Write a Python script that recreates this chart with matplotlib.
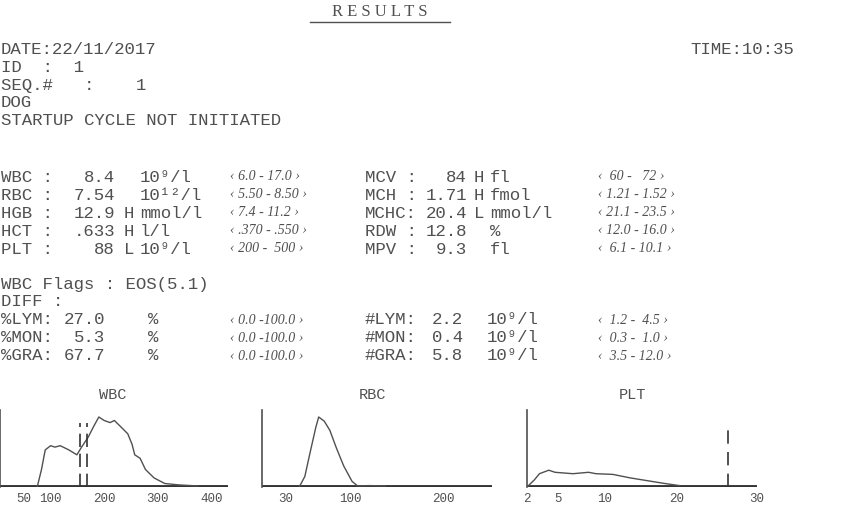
import numpy as np
import matplotlib
matplotlib.use('Agg')
import matplotlib.pyplot as plt
from matplotlib.lines import Line2D

W, H = 850, 522
MONO = ['Liberation Mono', 'DejaVu Sans Mono']
RNG = ['Liberation Serif', 'DejaVu Serif']
INK = '#505050'

header = ['DATE:22/11/2017', 'ID  :  1', 'SEQ.#   :    1', 'DOG', 'STARTUP CYCLE NOT INITIATED']
time_str = 'TIME:10:35'

# main results: label, value, flag, unit, range
left_rows = [('WBC :', '8.4', ' ', '10⁹/l', '‹ 6.0 - 17.0 ›'),
             ('RBC :', '7.54', ' ', '10¹²/l', '‹ 5.50 - 8.50 ›'),
             ('HGB :', '12.9', 'H', 'mmol/l', '‹ 7.4 - 11.2 ›'),
             ('HCT :', '.633', 'H', 'l/l', '‹ .370 - .550 ›'),
             ('PLT :', '88', 'L', '10⁹/l', '‹ 200 -  500 ›')]
right_rows = [('MCV :', '84', 'H', 'fl', '‹  60 -   72 ›'),
              ('MCH :', '1.71', 'H', 'fmol', '‹ 1.21 - 1.52 ›'),
              ('MCHC:', '20.4', 'L', 'mmol/l', '‹ 21.1 - 23.5 ›'),
              ('RDW :', '12.8', ' ', '%', '‹ 12.0 - 16.0 ›'),
              ('MPV :', '9.3', ' ', 'fl', '‹  6.1 - 10.1 ›')]
flags = 'WBC Flags : EOS(5.1)'
diff_left = [('%LYM:', '27.0', '%', '‹ 0.0 -100.0 ›'),
             ('%MON:', '5.3', '%', '‹ 0.0 -100.0 ›'),
             ('%GRA:', '67.7', '%', '‹ 0.0 -100.0 ›')]
diff_right = [('#LYM:', '2.2', '10⁹/l', '‹  1.2 -  4.5 ›'),
              ('#MON:', '0.4', '10⁹/l', '‹  0.3 -  1.0 ›'),
              ('#GRA:', '5.8', '10⁹/l', '‹  3.5 - 12.0 ›')]

# histograms (fL, relative height)
wbc_x = [75, 83, 90, 100, 108, 118, 134, 149, 157, 170, 180, 190, 200, 211, 219, 231, 244, 252, 257, 267, 277, 293, 313, 339, 375]
wbc_y = [0, 0.25, 0.53, 0.59, 0.57, 0.59, 0.53, 0.46, 0.56, 0.71, 0.86, 1.0, 0.95, 0.92, 0.95, 0.86, 0.76, 0.61, 0.46, 0.41, 0.25, 0.13, 0.05, 0.03, 0.015]
wbc_marks = [154, 168]
wbc_ticks = [50, 100, 200, 300, 400]
rbc_x = [45, 51, 57, 63, 66, 72, 78, 85, 93, 102, 108, 120, 138]
rbc_y = [0, 0.15, 0.51, 0.86, 1.0, 0.94, 0.81, 0.56, 0.30, 0.08, 0.015, 0.02, 0.015]
rbc_ticks = [30, 100, 200]
plt_x = [2, 2.7, 3.2, 4.1, 4.7, 6.6, 8.3, 9.1, 11.2, 13.6, 16, 18.4, 20.4]
plt_y = [0, 0.10, 0.19, 0.24, 0.21, 0.19, 0.21, 0.19, 0.18, 0.13, 0.09, 0.05, 0.02]
plt_mark = 26.4
plt_ticks = [2, 5, 10, 20, 30]
plt_tick_px = [963, 1017, 1097, 1222, 1362]

fig = plt.figure(figsize=(8.5, 5.22), dpi=100)


def put(x, y, s, size=12.5, ha='left', fam=MONO, style='normal'):
    fig.text(x / W, 1 - y / H, s, fontsize=size, ha=ha, va='center',
             family=fam, style=style, color=INK)


def rng(x, y, s):
    put(x, y, s, size=10, fam=RNG, style='italic')


put(380, 12, 'R E S U L T S', size=12, ha='center', fam=RNG)
fig.add_artist(Line2D([310 / W, 450 / W], [1 - 22 / H] * 2, color=INK, lw=1))
for i, s in enumerate(header):
    put(1, 50 + i * 17.6, s)
put(690, 50, time_str)

for i, (a, b) in enumerate(zip(left_rows, right_rows)):
    y = 177 + i * 18
    put(1, y, a[0]); put(115, y, a[1], ha='right'); put(124, y, a[2])
    put(140, y, a[3]); rng(230, y, a[4])
    put(365, y, b[0]); put(467, y, b[1], ha='right'); put(474, y, b[2])
    put(490, y, b[3]); rng(598, y, b[4])

put(1, 285, flags)
put(1, 302, 'DIFF :')
for i, (a, b) in enumerate(zip(diff_left, diff_right)):
    y = 320 + i * 18
    put(1, y, a[0]); put(105, y, a[1], ha='right'); put(148, y, a[2])
    rng(230, y, a[3])
    put(365, y, b[0]); put(463, y, b[1], ha='right'); put(487, y, b[2])
    rng(598, y, b[3])


def hist_axes(x0, x1, title, tx):
    ax = fig.add_axes([x0 / W, (522 - 487) / H, (x1 - x0) / W, 77 / H])
    ax.set_ylim(0, 1.1)
    for s in ['top', 'right', 'bottom']:
        ax.spines[s].set_visible(False)
    ax.spines['left'].set_color(INK)
    ax.spines['left'].set_linewidth(1.2)
    ax.axhline(0, color='#333', lw=3.5)
    ax.set_yticks([])
    ax.tick_params(axis='x', length=0, labelsize=9, labelcolor=INK, pad=4)
    put(tx, 395, title, size=11, ha='center')
    return ax


ax = hist_axes(0, 228, 'WBC', 113)
ax.plot(wbc_x, wbc_y, color=INK, lw=1)
for m in wbc_marks:
    ax.plot([m, m], [0, 0.92], color='#333', lw=1.2, dashes=(8, 4))
ax.set_xticks(wbc_ticks)
ax.set_xticklabels([str(t) for t in wbc_ticks], family=MONO)
ax.set_xlim(5.6, 431)

ax = hist_axes(262, 492, 'RBC', 372)
ax.plot(rbc_x, rbc_y, color=INK, lw=1)
ax.set_xticks(rbc_ticks)
ax.set_xticklabels([str(t) for t in rbc_ticks], family=MONO)
ax.set_xlim(4.8, 253)

ax = hist_axes(527, 757, 'PLT', 632)
fwd = lambda v: np.interp(v, plt_ticks, plt_tick_px)
inv = lambda p: np.interp(p, plt_tick_px, plt_ticks)
ax.set_xscale('function', functions=(fwd, inv))
ax.plot(plt_x, plt_y, color=INK, lw=1)
ax.plot([plt_mark, plt_mark], [0, 0.93], color='#333', lw=1.2, dashes=(8, 5))
ax.set_xticks(plt_ticks)
ax.set_xticklabels([str(t) for t in plt_ticks], family=MONO)
ax.set_xlim(1.95, 30.5)

fig.savefig('out.png', dpi=100)
